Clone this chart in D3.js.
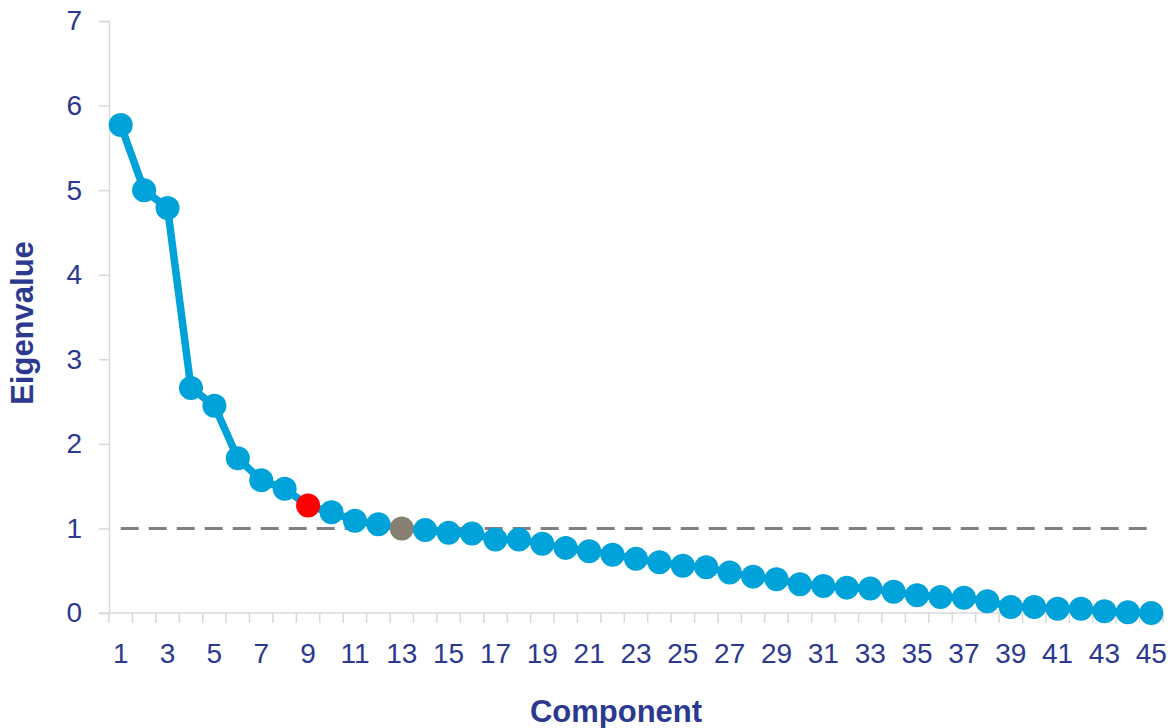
<!DOCTYPE html>
<html>
<head>
<meta charset="utf-8">
<script src="https://cdn.jsdelivr.net/npm/d3@7"></script>
<style>
  body { margin: 0; background: #fff; }
  text { font-family: "Liberation Sans", Arial, sans-serif; fill: #2b3990; }
</style>
</head>
<body>
<div class="chart"></div>
<script>
// components 1..45 and their eigenvalues
const components = d3.range(1, 46);
const eigenvalues = [5.77, 5.00, 4.79, 2.66, 2.45, 1.83, 1.57, 1.47, 1.27, 1.19,
                     1.09, 1.05, 1.00, 0.98, 0.95, 0.94, 0.87, 0.87, 0.82, 0.77,
                     0.73, 0.69, 0.64, 0.60, 0.56, 0.54, 0.48, 0.43, 0.40, 0.34,
                     0.32, 0.30, 0.29, 0.25, 0.21, 0.19, 0.18, 0.14, 0.07, 0.07,
                     0.05, 0.05, 0.02, 0.01, 0.00];
const yTicks = [0, 1, 2, 3, 4, 5, 6, 7];
const cutoff = 1;
const highlight = {9: "#ff0000", 13: "#877f72"};

const width = 1170, height = 728;
const margin = {top: 21, right: 7, bottom: 115, left: 109};

const svg = d3.select("div.chart").append("svg")
  .attr("width", width)
  .attr("height", height);

const x = d3.scaleBand()
  .domain(components)
  .range([margin.left, width - margin.right])
  .padding(0);

const y = d3.scaleLinear()
  .domain([0, 7])
  .range([height - margin.bottom, margin.top]);

const cx = d => x(d) + x.bandwidth() / 2;
const data = components.map((c, i) => ({c: c, v: eigenvalues[i]}));

// y axis
const yAxis = svg.append("g")
  .attr("transform", `translate(${margin.left},0)`)
  .call(d3.axisLeft(y).tickValues(yTicks).tickFormat(d3.format("d"))
    .tickSize(10).tickPadding(17));
yAxis.select(".domain").attr("stroke", "#d9d9d9").attr("stroke-width", 1.5);
yAxis.selectAll(".tick line").attr("stroke", "#d9d9d9").attr("stroke-width", 1.5);
yAxis.selectAll("text").style("font-size", "28px").attr("fill", "#2b3990");

// x axis: labels on every other component, tick marks between categories
const xAxis = svg.append("g")
  .attr("transform", `translate(0,${y(0)})`)
  .call(d3.axisBottom(x)
    .tickValues(components.filter(c => c % 2 === 1))
    .tickSize(0).tickPadding(30));
xAxis.select(".domain").remove();
xAxis.selectAll("text").style("font-size", "28px").attr("fill", "#2b3990");

svg.append("line")
  .attr("x1", margin.left - 10).attr("x2", x.range()[1])
  .attr("y1", y(0)).attr("y2", y(0))
  .attr("stroke", "#d9d9d9").attr("stroke-width", 1.5);

svg.append("g").selectAll("line")
  .data(components.concat([null]))
  .join("line")
  .attr("x1", d => d === null ? x.range()[1] : x(d))
  .attr("x2", d => d === null ? x.range()[1] : x(d))
  .attr("y1", y(0)).attr("y2", y(0) + 10)
  .attr("stroke", "#d9d9d9").attr("stroke-width", 1.5);

// eigenvalue = 1 reference line
svg.append("line")
  .attr("x1", cx(components[0]))
  .attr("x2", cx(components[components.length - 1]))
  .attr("y1", y(cutoff)).attr("y2", y(cutoff))
  .attr("stroke", "#808080")
  .attr("stroke-width", 3)
  .attr("stroke-dasharray", "18 10");

// the scree line and markers
svg.append("path")
  .datum(data)
  .attr("fill", "none")
  .attr("stroke", "#00a2da")
  .attr("stroke-width", 7.5)
  .attr("stroke-linejoin", "round")
  .attr("d", d3.line().x(d => cx(d.c)).y(d => y(d.v)));

svg.append("g").selectAll("circle")
  .data(data)
  .join("circle")
  .attr("cx", d => cx(d.c))
  .attr("cy", d => y(d.v))
  .attr("r", 12)
  .attr("fill", d => highlight[d.c] || "#00a2da");

// axis titles
svg.append("text")
  .attr("x", 616)
  .attr("y", 722)
  .attr("text-anchor", "middle")
  .style("font-size", "31px")
  .style("font-weight", "bold")
  .text("Component");

svg.append("text")
  .attr("transform", "rotate(-90)")
  .attr("x", -323)
  .attr("y", 33)
  .attr("text-anchor", "middle")
  .style("font-size", "31px")
  .style("font-weight", "bold")
  .text("Eigenvalue");
</script>
</body>
</html>
